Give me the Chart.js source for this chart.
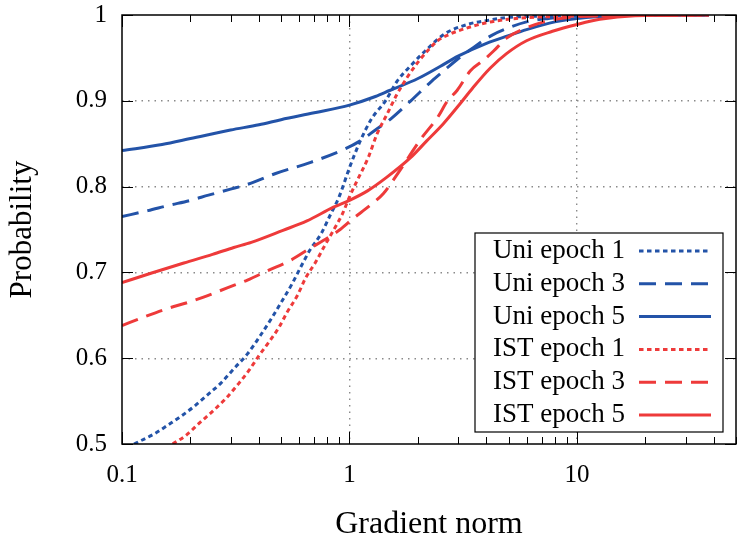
<!DOCTYPE html>
<html>
<head>
<meta charset="utf-8">
<title>Gradient norm CDF</title>
<script src="https://cdn.jsdelivr.net/npm/chart.js@4.4.1/dist/chart.umd.min.js"></script>
<style>
  html, body { margin: 0; padding: 0; background: #fff; }
  #wrap { width: 738px; height: 542px; }
</style>
</head>
<body>
<div id="wrap"><canvas id="cdfChart" width="738" height="542"></canvas></div>
<script>
// CDF of per-sample gradient norms, uniform vs IST sampling, at epochs 1/3/5

const xTickValues  = [0.1, 0.2, 0.3, 0.4, 0.5, 0.6, 0.7, 0.8, 0.9,
                      1, 2, 3, 4, 5, 6, 7, 8, 9,
                      10, 20, 30, 40, 50];
const xLabelValues = [0.1, 1, 10];
const yTickValues  = [0.5, 0.6, 0.7, 0.8, 0.9, 1];

const seriesNames = ["Uni epoch 1", "Uni epoch 3", "Uni epoch 5",
                     "IST epoch 1", "IST epoch 3", "IST epoch 5"];

const uni1X = [0.113, 0.139, 0.159, 0.181, 0.208, 0.237, 0.272, 0.311, 0.356, 0.407, 0.458, 0.506, 0.56, 0.61, 0.67, 0.75, 0.82, 0.9, 1.0, 1.11, 1.25, 1.44, 1.62, 1.86, 2.15, 2.62, 3.3, 3.9, 5.5, 38];
const uni1Y = [0.5, 0.512, 0.522, 0.532, 0.544, 0.557, 0.571, 0.588, 0.605, 0.627, 0.648, 0.667, 0.687, 0.706, 0.726, 0.745, 0.766, 0.788, 0.822, 0.852, 0.879, 0.9, 0.923, 0.941, 0.958, 0.978, 0.989, 0.993, 0.998, 1.0];

const uni3X = [0.1, 0.13, 0.16, 0.2, 0.24, 0.3, 0.36, 0.47, 0.67, 0.94, 1.11, 1.3, 1.52, 1.86, 2.3, 2.6, 3, 3.5, 4.2, 5, 6, 7.5, 10, 38];
const uni3Y = [0.765, 0.772, 0.778, 0.784, 0.790, 0.797, 0.803, 0.815, 0.828, 0.843, 0.853, 0.866, 0.879, 0.900, 0.923, 0.935, 0.949, 0.962, 0.976, 0.985, 0.992, 0.996, 0.999, 1.0];

const uni5X = [0.1, 0.15, 0.2, 0.3, 0.4, 0.5, 0.7, 1, 1.3, 1.5, 2, 2.5, 3, 4, 5, 6, 8, 10, 15, 38];
const uni5Y = [0.842, 0.849, 0.856, 0.866, 0.872, 0.878, 0.886, 0.895, 0.905, 0.912, 0.926, 0.940, 0.952, 0.967, 0.976, 0.983, 0.992, 0.996, 0.999, 1.0];

const ist1X = [0.167, 0.191, 0.218, 0.25, 0.286, 0.327, 0.362, 0.4, 0.443, 0.49, 0.533, 0.59, 0.64, 0.71, 0.77, 0.85, 0.93, 1.0, 1.08, 1.21, 1.32, 1.46, 1.62, 1.8, 2.0, 2.2, 2.44, 2.78, 3.3, 4.0, 5.4, 7.6, 38];
const ist1Y = [0.5, 0.51, 0.524, 0.538, 0.553, 0.571, 0.586, 0.603, 0.619, 0.636, 0.654, 0.673, 0.693, 0.712, 0.729, 0.749, 0.768, 0.788, 0.807, 0.834, 0.861, 0.884, 0.908, 0.928, 0.945, 0.958, 0.970, 0.978, 0.985, 0.991, 0.996, 0.998, 1.0];

const ist3X = [0.1, 0.125, 0.159, 0.195, 0.238, 0.29, 0.356, 0.437, 0.55, 0.67, 0.8, 0.91, 1.04, 1.23, 1.41, 1.59, 2.08, 2.43, 2.7, 2.97, 3.4, 3.87, 4.3, 4.9, 6.0, 7.4, 10, 38];
const ist3Y = [0.638, 0.648, 0.658, 0.665, 0.673, 0.682, 0.691, 0.702, 0.714, 0.728, 0.740, 0.750, 0.763, 0.778, 0.792, 0.811, 0.857, 0.880, 0.900, 0.912, 0.935, 0.947, 0.958, 0.973, 0.985, 0.993, 0.998, 1.0];

const ist5X = [0.1, 0.134, 0.187, 0.25, 0.31, 0.37, 0.51, 0.65, 0.85, 1.0, 1.2, 1.46, 1.86, 2.18, 2.58, 3.05, 3.48, 4.15, 4.9, 6.0, 7.8, 10, 12.6, 18, 38];
const ist5Y = [0.688, 0.699, 0.711, 0.721, 0.729, 0.735, 0.749, 0.760, 0.776, 0.784, 0.795, 0.811, 0.834, 0.853, 0.873, 0.896, 0.915, 0.938, 0.955, 0.970, 0.981, 0.989, 0.995, 0.999, 1.0];

const BLUE  = "#2353a8";
const RED   = "#ee3a3a";
const SERIF = "'Liberation Serif', 'DejaVu Serif', serif";

const DOTS   = [4.5, 3.5];
const DASHES = [17, 9];

const seriesX = [uni1X, uni3X, uni5X, ist1X, ist3X, ist5X];
const seriesY = [uni1Y, uni3Y, uni5Y, ist1Y, ist3Y, ist5Y];
const styles  = [
  { color: BLUE, dash: DOTS },
  { color: BLUE, dash: DASHES },
  { color: BLUE, dash: [] },
  { color: RED,  dash: DOTS },
  { color: RED,  dash: DASHES },
  { color: RED,  dash: [] },
];

const datasets = seriesNames.map((name, i) => ({
  label: name,
  data: seriesX[i].map((x, j) => ({ x: x, y: seriesY[i][j] })),
  borderColor: styles[i].color,
  borderDash: styles[i].dash,
  borderWidth: 3,
  pointRadius: 0,
  fill: false,
  cubicInterpolationMode: "monotone",
  order: seriesNames.length - i,
}));

// border box, inward tick marks and the in-plot key
const frameAndKey = {
  id: "frameAndKey",
  afterDatasetsDraw(chart) {
    const { ctx, chartArea: a, scales } = chart;
    const x = scales.x, y = scales.y;
    ctx.save();

    // key
    const boxW = 248, boxH = 199;
    const bx = a.right - 13 - boxW;
    const by = a.bottom - 12 - boxH;
    ctx.fillStyle = "#fff";
    ctx.fillRect(bx, by, boxW, boxH);
    ctx.strokeStyle = "#000";
    ctx.lineWidth = 1.2;
    ctx.strokeRect(bx, by, boxW, boxH);

    ctx.font = "27px " + SERIF;
    ctx.textBaseline = "middle";
    ctx.textAlign = "left";
    chart.data.datasets.forEach((ds, i) => {
      const ry = by + 18 + i * 32.8;
      ctx.fillStyle = "#000";
      ctx.fillText(ds.label, bx + 18, ry);
      ctx.strokeStyle = ds.borderColor;
      ctx.lineWidth = ds.borderWidth;
      ctx.setLineDash(ds.borderDash);
      ctx.beginPath();
      ctx.moveTo(bx + 164, ry);
      ctx.lineTo(bx + 236, ry);
      ctx.stroke();
    });
    ctx.setLineDash([]);

    // tick marks pointing into the plot
    ctx.strokeStyle = "#000";
    ctx.lineWidth = 1;
    ctx.beginPath();
    xTickValues.forEach(v => {
      const px = Math.round(x.getPixelForValue(v)) + 0.5;
      const len = xLabelValues.includes(v) ? 12 : 7;
      ctx.moveTo(px, a.bottom); ctx.lineTo(px, a.bottom - len);
      ctx.moveTo(px, a.top);    ctx.lineTo(px, a.top + len);
    });
    yTickValues.forEach(v => {
      const py = Math.round(y.getPixelForValue(v)) + 0.5;
      ctx.moveTo(a.left, py);  ctx.lineTo(a.left + 11, py);
      ctx.moveTo(a.right, py); ctx.lineTo(a.right - 11, py);
    });
    ctx.stroke();

    ctx.lineWidth = 1.5;
    ctx.strokeRect(a.left, a.top, a.right - a.left, a.bottom - a.top);
    ctx.restore();
  }
};

const gridColor = "#8a8a8a";

new Chart(document.getElementById("cdfChart"), {
  type: "line",
  data: { datasets: datasets },
  plugins: [frameAndKey],
  options: {
    responsive: false,
    animation: false,
    events: [],
    layout: { padding: { top: 15, right: 2, left: 0, bottom: 0 } },
    plugins: { legend: { display: false }, tooltip: { enabled: false } },
    scales: {
      x: {
        type: "logarithmic",
        min: 0.1,
        max: 50,
        afterBuildTicks: (s) => { s.ticks = xTickValues.map(v => ({ value: v, major: xLabelValues.includes(v) })); },
        afterFit: (s) => { s.height = 98; s.paddingLeft = 0; s.paddingRight = 0; },
        grid: {
          drawTicks: false,
          lineWidth: 1.4,
          color: (c) => (c.tick && (c.tick.value === 1 || c.tick.value === 10)) ? gridColor : "rgba(0,0,0,0)",
        },
        border: { display: false, dash: [1.5, 5] },
        ticks: {
          autoSkip: false,
          maxRotation: 0,
          padding: 19,
          color: "#000",
          font: { family: SERIF, size: 25, lineHeight: 1 },
          callback: (v) => xLabelValues.includes(v) ? String(v) : "",
        },
        title: {
          display: true,
          text: "Gradient norm",
          color: "#000",
          font: { family: SERIF, size: 32, lineHeight: 1 },
          padding: { top: 0, bottom: 1 },
        },
      },
      y: {
        min: 0.5,
        max: 1,
        afterBuildTicks: (s) => { s.ticks = yTickValues.map(v => ({ value: v })); },
        afterFit: (s) => { s.width = 122; s.paddingTop = 0; s.paddingBottom = 0; },
        grid: {
          drawTicks: false,
          lineWidth: 1.4,
          color: (c) => (c.tick && c.tick.value > 0.5 && c.tick.value < 1) ? gridColor : "rgba(0,0,0,0)",
        },
        border: { display: false, dash: [1.5, 5] },
        ticks: {
          padding: 15,
          color: "#000",
          font: { family: SERIF, size: 25, lineHeight: 1 },
          callback: (v) => String(+v.toFixed(1)),
        },
        title: {
          display: true,
          text: "Probability",
          color: "#000",
          font: { family: SERIF, size: 31, lineHeight: 1 },
          padding: { top: 7.5, bottom: 0 },
        },
      },
    },
  },
});
</script>
</body>
</html>
